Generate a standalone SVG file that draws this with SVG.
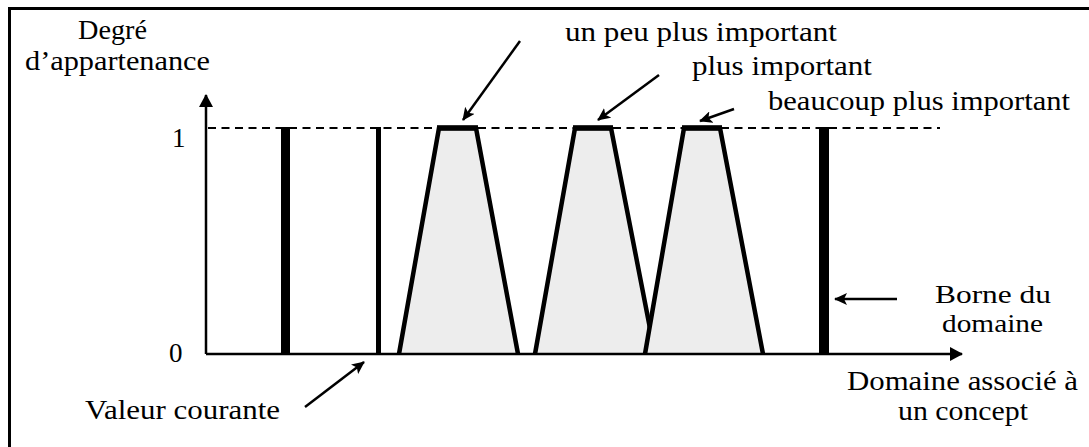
<svg xmlns="http://www.w3.org/2000/svg" width="1089" height="447" viewBox="0 0 1089 447">
<style>
.lbl text{font-size:27px;fill:#000}
.lbl .sm{font-size:26px}
.ax{stroke:#000;stroke-width:2.5;fill:none}
.bar{fill:#000}
.fill{fill:#ededed;stroke:none}
.side{stroke:#000;stroke-width:4.5;fill:none;stroke-linejoin:miter}
.top{stroke:#000;stroke-width:5.5}
.arr{stroke:#000;stroke-width:2.5;fill:none;marker-end:url(#ah)}
</style>
<defs>
<marker id="ah" markerUnits="userSpaceOnUse" markerWidth="14" markerHeight="12" refX="12" refY="6" orient="auto">
<path d="M0,0 L13,6 L0,12 L3,6 Z" fill="#000"/>
</marker>
<marker id="axh" markerUnits="userSpaceOnUse" markerWidth="14" markerHeight="14" refX="12" refY="7" orient="auto">
<path d="M0,0 L13,7 L0,14 Z" fill="#000"/>
</marker>
</defs>
<g id="frame">
<path d="M9.5,447 L9.5,8.5 L1089,8.5" fill="none" stroke="#000" stroke-width="3"/>
</g>
<g id="axes">
<line class="ax" x1="206" y1="354" x2="206" y2="95" marker-end="url(#axh)"/>
<line x1="208" y1="128" x2="940" y2="128" stroke="#000" stroke-width="2" stroke-dasharray="8,5.5"/>
</g>
<g id="bars">
<rect class="bar" x="281" y="127" width="9" height="227"/>
<rect class="bar" x="376" y="127" width="5" height="227"/>
<rect class="bar" x="819" y="127" width="10" height="227"/>
</g>
<g id="t1">
<polygon class="fill" points="439,128 476,128 518,354 399,354"/>
<polyline class="side" points="399,354 439,128 476,128 518,354"/>
<line class="top" x1="437" y1="128" x2="478" y2="128"/>
</g>
<g id="t2">
<polygon class="fill" points="575,128 611,128 655,354 535,354"/>
<polyline class="side" points="535,354 575,128 611,128 655,354"/>
<line class="top" x1="573" y1="128" x2="613" y2="128"/>
</g>
<g id="t3">
<polygon class="fill" points="684,128 720,128 763,354 645,354"/>
<polyline class="side" points="645,354 684,128 720,128 763,354"/>
<line class="top" x1="682" y1="128" x2="722" y2="128"/>
</g>
<g id="xaxis">
<line class="ax" x1="206" y1="354" x2="962" y2="354" marker-end="url(#axh)"/>
</g>
<g id="connectors">
<line class="arr" x1="520" y1="41" x2="463" y2="120"/>
<line class="arr" x1="659" y1="75" x2="598" y2="120"/>
<line class="arr" x1="734" y1="109" x2="700" y2="121"/>
<line class="arr" x1="305" y1="407" x2="364" y2="362"/>
<line class="arr" x1="897" y1="299" x2="835" y2="299"/>
</g>
<g id="labels" class="lbl" font-family="'Liberation Serif', 'Times New Roman', Times, serif">
<text x="78" y="39" textLength="69" lengthAdjust="spacingAndGlyphs">Degré</text>
<text x="25" y="70" textLength="185" lengthAdjust="spacingAndGlyphs">d’appartenance</text>
<text x="172" y="147">1</text>
<text x="169" y="362">0</text>
<text x="85" y="419" textLength="195" lengthAdjust="spacingAndGlyphs">Valeur courante</text>
<text x="565" y="41" textLength="272" lengthAdjust="spacingAndGlyphs">un peu plus important</text>
<text x="692" y="75" textLength="180" lengthAdjust="spacingAndGlyphs">plus important</text>
<text x="768" y="110" textLength="302" lengthAdjust="spacingAndGlyphs">beaucoup plus important</text>
<text class="sm" x="935" y="303" textLength="116" lengthAdjust="spacingAndGlyphs">Borne du</text>
<text class="sm" x="942" y="332" textLength="101" lengthAdjust="spacingAndGlyphs">domaine</text>
<text x="847" y="390" textLength="231" lengthAdjust="spacingAndGlyphs">Domaine associé à</text>
<text x="898" y="420" textLength="130" lengthAdjust="spacingAndGlyphs">un concept</text>
</g>
</svg>
